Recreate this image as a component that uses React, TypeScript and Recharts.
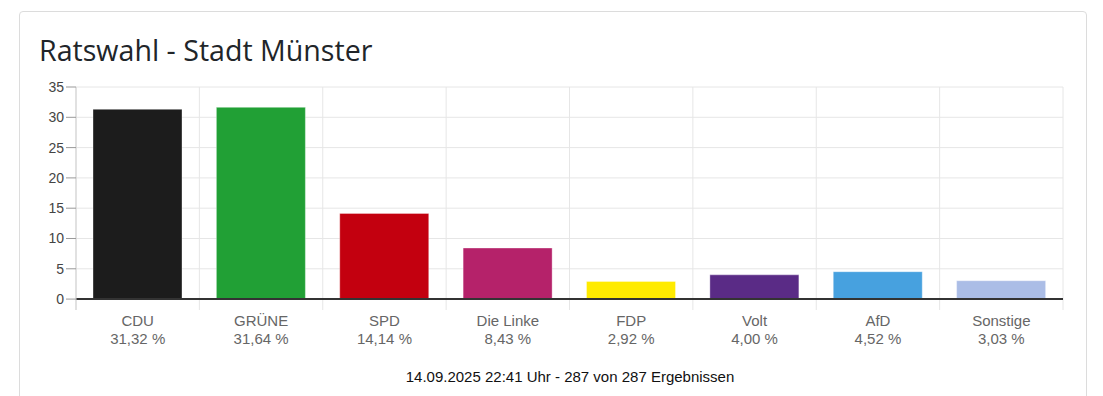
import React from "react";
import { BarChart, Bar, Cell, XAxis, YAxis, CartesianGrid, ReferenceLine } from "recharts";

const parties = ["CDU", "GRÜNE", "SPD", "Die Linke", "FDP", "Volt", "AfD", "Sonstige"];
const shares = [31.32, 31.64, 14.14, 8.43, 2.92, 4.0, 4.52, 3.03];
const colors = ["#1c1c1c", "#21a035", "#c3000f", "#b5226a", "#ffeb00", "#5a2b86", "#47a1df", "#abbde6"];
const yTicks = [0, 5, 10, 15, 20, 25, 30, 35];
const footer = "14.09.2025 22:41 Uhr - 287 von 287 Ergebnissen";

const data = parties.map((p, i) => ({ party: p, share: shares[i] }));

const fmt = (v: number) => v.toFixed(2).replace(".", ",") + " %";

function PartyTick({ x, y, payload }: any) {
  const i = payload.index;
  return (
    <g transform={`translate(${x},${y})`}>
      <text textAnchor="middle" fill="#666" fontSize={15} fontFamily="Arial, 'Liberation Sans', sans-serif">
        <tspan x={0} dy={16}>{parties[i]}</tspan>
        <tspan x={0} dy={18}>{fmt(shares[i])}</tspan>
      </text>
    </g>
  );
}

export default function App() {
  return (
    <div style={{ position: "absolute", left: 0, top: 0, width: 1103, height: 396, background: "#fff", overflow: "hidden" }}>
      <div
        style={{
          position: "absolute",
          left: 19,
          top: 11,
          width: 1066,
          height: 420,
          border: "1px solid #dcdcdc",
          borderRadius: 4,
        }}
      />
      <div
        style={{
          position: "absolute",
          left: 39,
          top: 30,
          fontFamily: "'Open Sans', sans-serif",
          fontSize: 28.6,
          color: "#212529",
          lineHeight: "40px",
          whiteSpace: "nowrap",
        }}
      >
        Ratswahl - Stadt Münster
      </div>
      <div style={{ position: "absolute", left: 0, top: 0 }}>
        <BarChart
          width={1103}
          height={396}
          data={data}
          margin={{ top: 87, right: 40, left: 0, bottom: 46 }}
          barCategoryGap={17}
        >
          <CartesianGrid
            stroke="#e6e6e6"
            horizontalValues={yTicks.slice(1)}
            verticalCoordinatesGenerator={({ offset }: any) =>
              Array.from({ length: parties.length + 1 }, (_, i) => offset.left + (i * offset.width) / parties.length)
            }
          />
          <XAxis
            dataKey="party"
            axisLine={false}
            tickLine={false}
            tickSize={0}
            tickMargin={0}
            height={40}
            interval={0}
            tick={<PartyTick />}
          />
          <YAxis
            type="number"
            domain={[-1.8, 35]}
            ticks={yTicks}
            width={76}
            axisLine={{ stroke: "#cfcfcf" }}
            tickLine={{ stroke: "#999" }}
            tickSize={10}
            tickMargin={2}
            tick={{ fill: "#444", fontSize: 14, fontFamily: "Arial, 'Liberation Sans', sans-serif" }}
          />
          <Bar dataKey="share" isAnimationActive={false} stroke="rgba(255,255,255,0.35)" strokeWidth={1}>
            {data.map((d, i) => (
              <Cell key={d.party} fill={colors[i]} />
            ))}
          </Bar>
          <ReferenceLine y={0} stroke="#333" strokeWidth={2} />
        </BarChart>
      </div>
      <div
        style={{
          position: "absolute",
          left: 19,
          width: 1102,
          top: 368,
          textAlign: "center",
          fontFamily: "Arial, 'Liberation Sans', sans-serif",
          fontSize: 15,
          color: "#111",
        }}
      >
        {footer}
      </div>
    </div>
  );
}
